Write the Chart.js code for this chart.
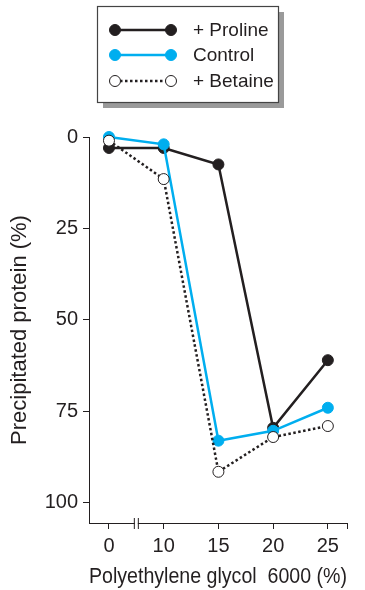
<!DOCTYPE html>
<html>
<head>
<meta charset="utf-8">
<script src="https://cdn.jsdelivr.net/npm/chart.js@4.4.1/dist/chart.umd.min.js"></script>
<style>
  html, body { margin: 0; padding: 0; background: #fff; }
  #wrap { width: 365px; height: 590px; position: relative; }
</style>
</head>
<body>
<div id="wrap"><canvas id="chart" width="365" height="590"></canvas></div>
<script>
// PEG 6000 concentrations (%), plotted at equal spacing with an axis break after 0
const categories = ['0', '10', '15', '20', '25'];
const proline = [3, 3, 7.5, 79.5, 61];
const control = [0, 2, 83, 80.3, 74];
const betaine = [1, 11.5, 91.5, 82, 79];
const yTicks = [0, 25, 50, 75, 100];

const INK = '#231f20';
const BLUE = '#00aeef';
const FONT = "'Liberation Sans', Arial, sans-serif";

const toPts = arr => arr.map((v, i) => ({ x: i, y: v }));

// legend box + axis break marks
const extras = {
  id: 'extras',
  afterDraw(chart) {
    const ctx = chart.ctx;
    const xs = chart.scales.x, ys = chart.scales.y;
    ctx.save();

    // axis break "||" between 0 and 10
    const bx = xs.getPixelForValue(0.5), by = ys.bottom;
    ctx.fillStyle = '#fff';
    ctx.fillRect(bx - 1.5, by - 2, 3, 4);
    ctx.strokeStyle = INK; ctx.lineWidth = 1;
    [-2, 2].forEach(d => {
      ctx.beginPath(); ctx.moveTo(bx + d, by - 5); ctx.lineTo(bx + d, by + 6); ctx.stroke();
    });

    // legend
    const L = 97, T = 6, W = 181, H = 96;
    ctx.fillStyle = '#9a9a9a';
    ctx.fillRect(L + 6, T + 6, W, H);
    ctx.fillStyle = '#fff';
    ctx.fillRect(L, T, W, H);
    ctx.strokeStyle = '#444'; ctx.lineWidth = 1.2;
    ctx.strokeRect(L + 0.5, T + 0.5, W, H);

    const rows = chart.data.datasets;
    const rowY = [30, 55, 81];
    rows.slice().reverse().forEach((ds, i) => {
      const y = rowY[i], x1 = 115, x2 = 171;
      ctx.strokeStyle = ds.borderColor; ctx.lineWidth = ds.borderWidth;
      ctx.setLineDash(ds.borderDash || []);
      ctx.beginPath(); ctx.moveTo(x1, y); ctx.lineTo(x2, y); ctx.stroke();
      ctx.setLineDash([]);
      [x1, x2].forEach(px => {
        ctx.beginPath(); ctx.arc(px, y, ds.pointRadius, 0, Math.PI * 2);
        ctx.fillStyle = ds.pointBackgroundColor; ctx.fill();
        ctx.lineWidth = ds.pointBorderWidth; ctx.strokeStyle = ds.pointBorderColor; ctx.stroke();
      });
      ctx.fillStyle = INK; ctx.font = '19px ' + FONT;
      ctx.textBaseline = 'middle'; ctx.textAlign = 'left';
      ctx.fillText(ds.label, 193, y + 1);
    });
    ctx.restore();
  }
};

new Chart(document.getElementById('chart'), {
  type: 'line',
  data: {
    datasets: [
      { label: '+ Betaine', data: toPts(betaine), borderColor: INK, borderWidth: 2.5, borderDash: [2.5, 2.5],
        pointRadius: 5.5, pointBackgroundColor: '#fff', pointBorderColor: INK, pointBorderWidth: 1 },
      { label: 'Control', data: toPts(control), borderColor: BLUE, borderWidth: 2.5,
        pointRadius: 5.5, pointBackgroundColor: BLUE, pointBorderColor: BLUE, pointBorderWidth: 1 },
      { label: '+ Proline', data: toPts(proline), borderColor: INK, borderWidth: 2.5,
        pointRadius: 5.5, pointBackgroundColor: INK, pointBorderColor: INK, pointBorderWidth: 1 }
    ]
  },
  options: {
    responsive: false, animation: false,
    clip: false,
    elements: { line: { tension: 0 } },
    layout: { padding: { top: 137, right: 18, left: 0, bottom: 0 } },
    plugins: { legend: { display: false }, tooltip: { enabled: false } },
    scales: {
      x: {
        type: 'linear', min: -0.365, max: 4.35,
        afterBuildTicks: s => { s.ticks = [0, 1, 2, 3, 4, 4.35].map(v => ({ value: v })); },
        afterFit: s => { s.height = 67; },
        border: { color: INK, width: 1 },
        grid: { drawOnChartArea: false, tickLength: 6, color: INK, tickWidth: 1 },
        ticks: { color: INK, font: { size: 20, family: FONT }, padding: 5,
          callback: v => Number.isInteger(v) ? categories[v] : '' },
        title: { display: true, text: 'Polyethylene glycol  6000 (%)', color: INK,
          font: { size: 22, family: FONT }, padding: { top: 0, bottom: 0 } }
      },
      y: {
        reverse: true, min: 0, max: 105.5,
        afterBuildTicks: s => { s.ticks = yTicks.map(v => ({ value: v })); },
        afterFit: s => { s.width = 89; },
        border: { color: INK, width: 1 },
        grid: { drawOnChartArea: false, tickLength: 6, color: INK, tickWidth: 1 },
        ticks: { color: INK, font: { size: 20, family: FONT }, padding: 5 },
        title: { display: true, text: 'Precipitated protein (%)', color: INK,
          font: { size: 22, family: FONT }, padding: { top: 7, bottom: 0 } }
      }
    }
  },
  plugins: [extras]
});
</script>
</body>
</html>
